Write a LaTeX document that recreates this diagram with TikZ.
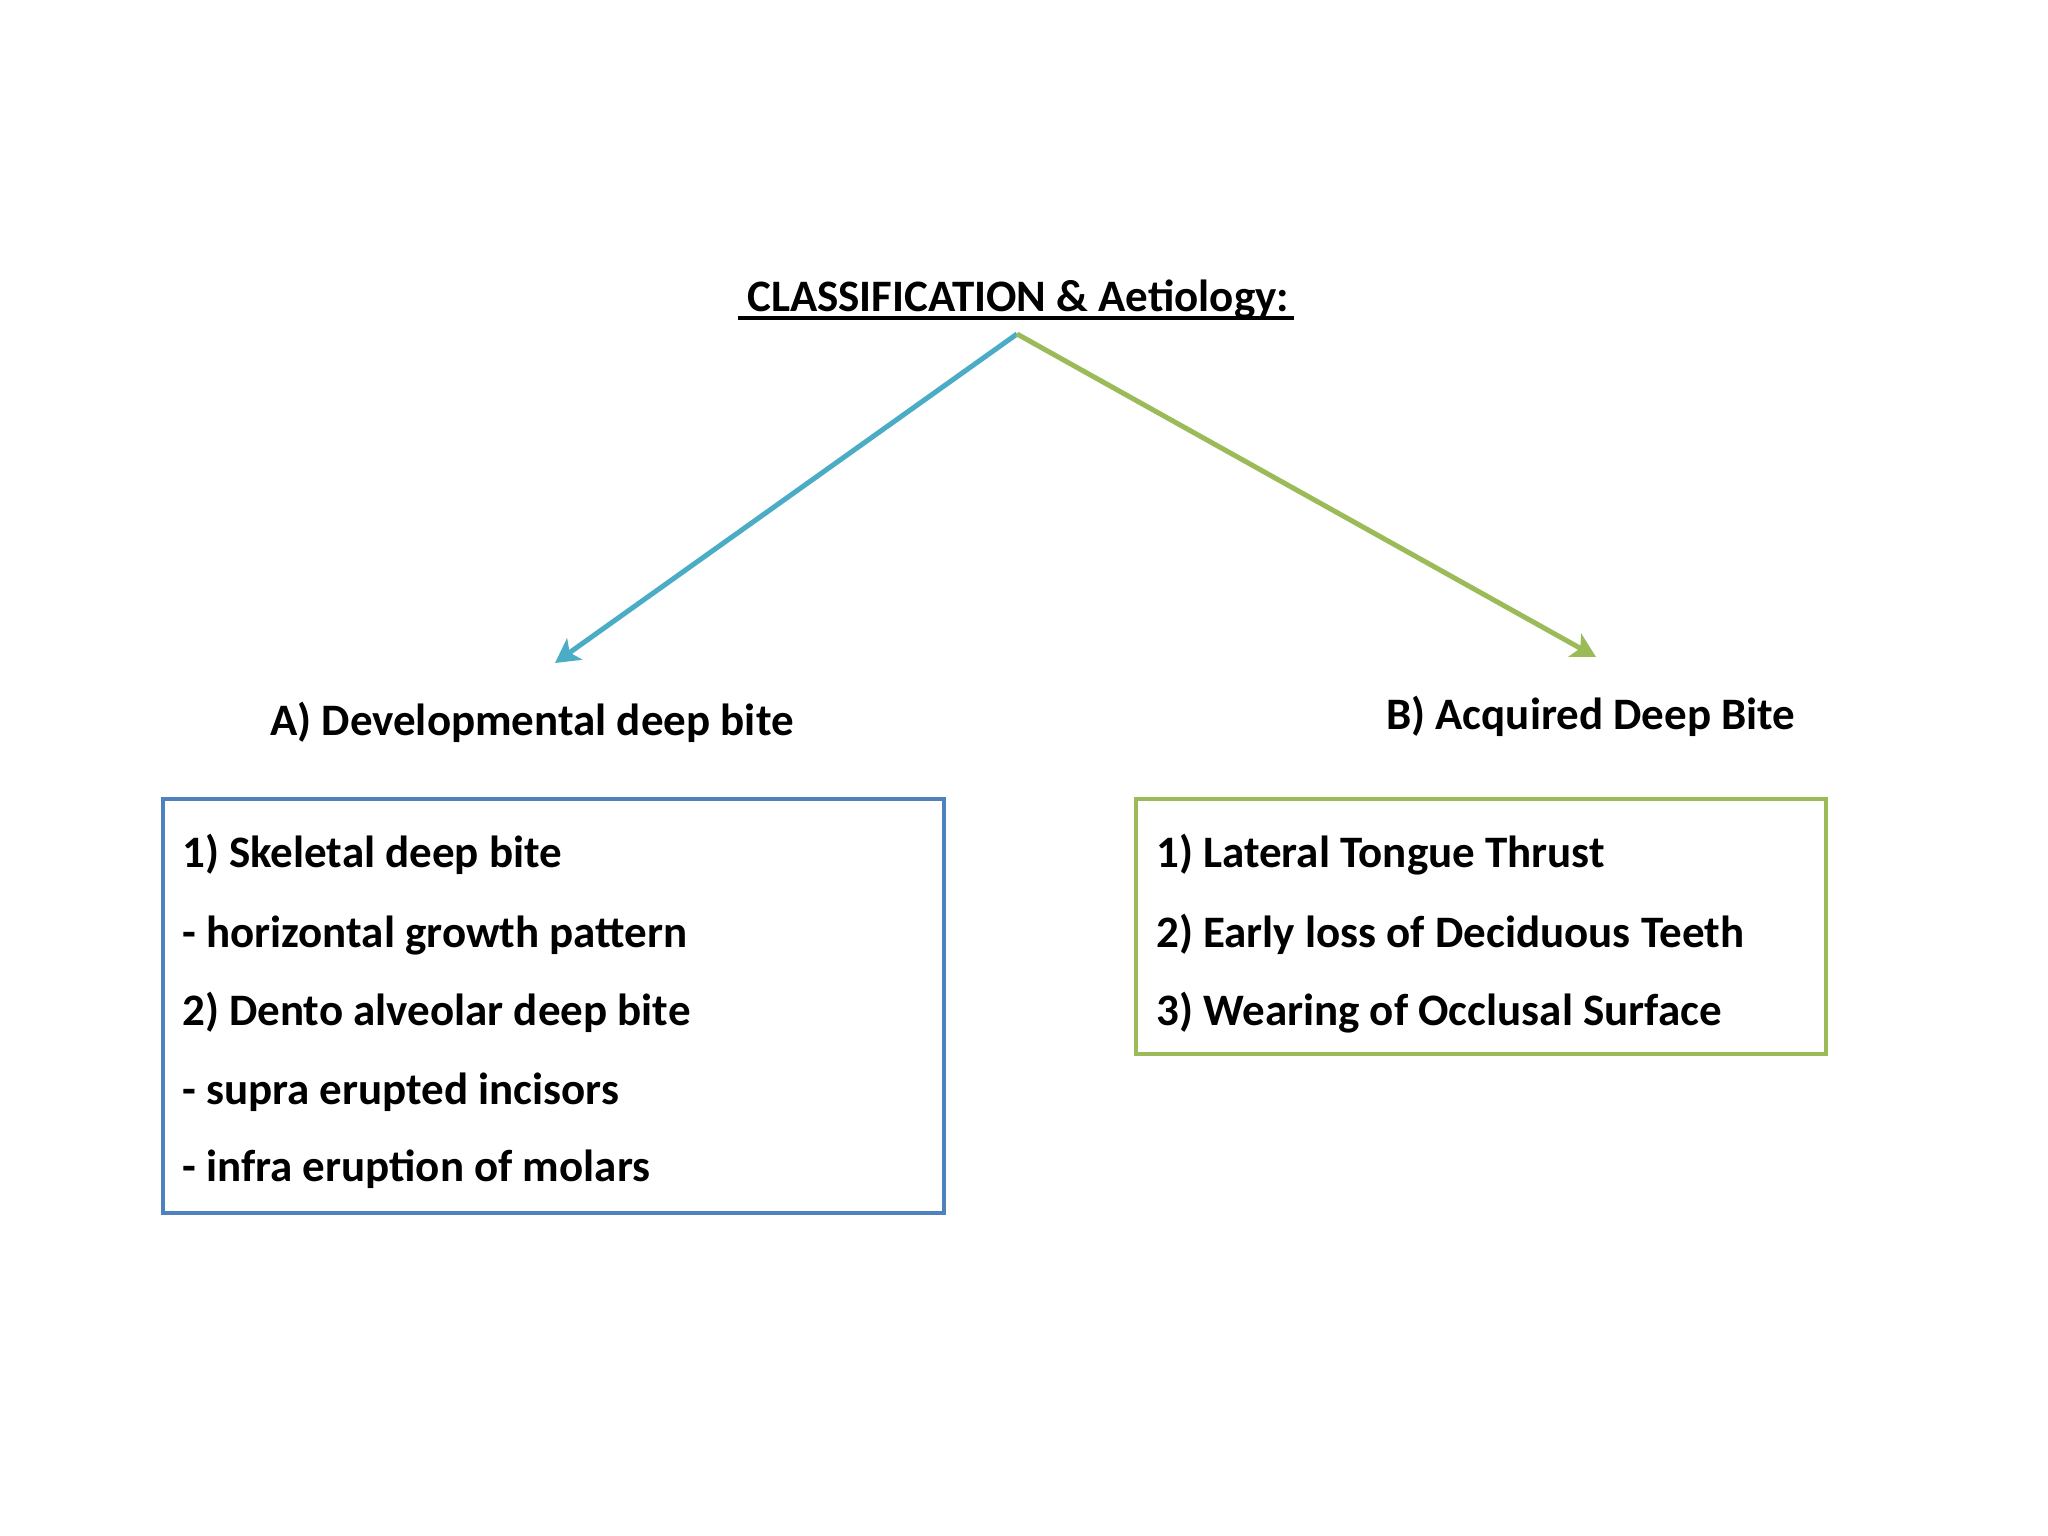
\documentclass[tikz,border=0pt]{standalone}
\usepackage{fontspec}
\setmainfont{Carlito}
\usetikzlibrary{arrows.meta}
\definecolor{arrowblue}{HTML}{4BACC6}
\definecolor{arrowgreen}{HTML}{9BBB59}
\definecolor{boxblue}{HTML}{4F81BD}
\definecolor{boxgreen}{HTML}{9BBB59}
\tikzset{
  txt/.style={anchor=base west, inner sep=0pt, font=\fontsize{45}{50}\selectfont\bfseries, text=black},
  conn/.style={line width=5pt, -{Stealth[length=24pt,width=26pt,inset=6pt]}},
  frame/.style={line width=3.5pt, fill=white}
}
\begin{document}
\begin{tikzpicture}[x=1pt,y=-1pt]
\useasboundingbox[fill=white] (0,0) rectangle (2048,1536);
% title
\node[txt] (title) at (747,311) {CLASSIFICATION \& Aetiology:};
\coordinate (ulL) at (738,318);
\coordinate (ulR) at (1294,318);
\draw[line width=3.5pt] (ulL) -- (ulR);
\coordinate (apex) at (1017,334);
\coordinate (tipA) at (555,663);
\coordinate (tipB) at (1596,657);
\draw[conn, draw=arrowblue, fill=arrowblue] (apex) -- (tipA);
\draw[conn, draw=arrowgreen, fill=arrowgreen] (apex) -- (tipB);
% category labels
\node[txt] (catA) at (270,735) {A) Developmental deep bite};
\node[txt] (catB) at (1386,729) {B) Acquired Deep Bite};
% boxes
\draw[frame, draw=boxblue] (163,799) rectangle (944,1213);
\draw[frame, draw=boxgreen] (1136,799) rectangle (1826,1054);
% left items
\node[txt] (a1) at (182,867) {1) Skeletal deep bite};
\node[txt] (a2) at (182,947) {- horizontal growth pattern};
\node[txt] (a3) at (182,1025) {2) Dento alveolar deep bite};
\node[txt] (a4) at (182,1104) {- supra erupted incisors};
\node[txt] (a5) at (182,1181) {- infra eruption of molars};
% right items
\node[txt] (b1) at (1156,867) {1) Lateral Tongue Thrust};
\node[txt] (b2) at (1156,947) {2) Early loss of Deciduous Teeth};
\node[txt] (b3) at (1156,1025) {3) Wearing of Occlusal Surface};
\end{tikzpicture}
\end{document}
